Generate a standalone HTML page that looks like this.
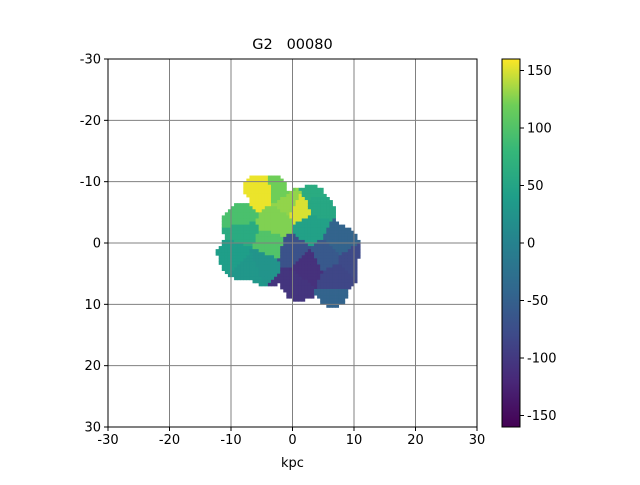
<!DOCTYPE html>
<html><head><meta charset="utf-8"><style>
body{margin:0;background:#fff;font-family:"Liberation Sans","DejaVu Sans",sans-serif;}
svg text{font-family:"DejaVu Sans","Liberation Sans",sans-serif;font-size:13px;fill:#000;white-space:pre;}
</style></head><body>
<svg id="chart" width="640" height="480" viewBox="0 0 640 480" xmlns="http://www.w3.org/2000/svg">
<defs><linearGradient id="vir" x1="0" y1="1" x2="0" y2="0">
<stop offset="0" stop-color="#440154"/><stop offset="0.125" stop-color="#482878"/><stop offset="0.25" stop-color="#3e4a89"/><stop offset="0.375" stop-color="#31688e"/><stop offset="0.5" stop-color="#26828e"/><stop offset="0.625" stop-color="#1f9e89"/><stop offset="0.75" stop-color="#35b779"/><stop offset="0.875" stop-color="#6ece58"/><stop offset="1" stop-color="#fde725"/></linearGradient></defs>
<rect width="640" height="480" fill="#fff"/>
<text x="292.5" y="49" text-anchor="middle" xml:space="preserve" style="font-size:14.5px">G2   00080</text>
<g id="map"></g>
<g id="grid"></g>
<rect x="108" y="59" width="369" height="368" fill="none" stroke="#000" stroke-width="1"/>
<g id="ticks"></g>
<text x="292.5" y="467" text-anchor="middle">kpc</text>
<rect x="502" y="59" width="18" height="368" fill="url(#vir)" stroke="#000" stroke-width="1"/>
<g id="cticks"></g>
</svg>
<script>
const axisTicks=[-30,-20,-10,0,10,20,30];
const cbarTicks=[-150,-100,-50,0,50,100,150];
const vmin=-160, vmax=160;
// velocity regions: centers (kpc) and values
const regX=[-5.3,1.2,-2.5,-9,-9.5,-7,-3.7,4,2.8,7.7,0,2.4,0,7.2,7.2,9.8,-5,-2,3.8,-8.5,-0.5,5.5];
const regY=[-8.5,-5.7,-3.4,-4.5,1.5,4,0.3,-6.5,-2.4,-0.5,1.2,3.8,7,5.7,9,3,3.2,-8.8,-8.2,-1.5,-6.5,2];
const regV=[155,150,125,95,40,30,100,55,45,-45,-70,-110,-105,-85,-45,-80,25,120,60,60,130,-60];
// extent mask circles (kpc)
const maskX=[-4,1,4,-8,-8,-2,4,7,2,7,1,6.5,-4,-11.5,-3,-6,3];
const maskY=[-8,-6,-5,-3,2,-2,-1,1,4,5,7,8,3,1.5,-9,-9,-7];
const maskR=[3.2,3,3,3.5,4,4,4,4,5,3.5,2.5,2.5,4,1,2,2,2.5];
const NS='http://www.w3.org/2000/svg';
const X0=108,X1=477,Y0=59,Y1=427;
const sx=v=>X0+(v+30)/60*(X1-X0);
const sy=v=>Y0+(v+30)/60*(Y1-Y0);
const cy=v=>Y1-(v-vmin)/(vmax-vmin)*(Y1-Y0);
const vir=[[68,1,84],[72,40,120],[62,74,137],[49,104,142],[38,130,142],[31,158,137],[53,183,121],[110,206,88],[253,231,37]];
function color(v){let t=Math.max(0,Math.min(1,(v-vmin)/(vmax-vmin)))*8;let i=Math.min(7,Math.floor(t)),f=t-i;
const a=vir[i],b=vir[i+1];return 'rgb('+a.map((c,k)=>Math.round(c+(b[k]-c)*f)).join(',')+')';}
function mk(tag,at,par){const e=document.createElementNS(NS,tag);for(const k in at)e.setAttribute(k,at[k]);par.appendChild(e);return e;}
const map=document.getElementById('map');
const step=0.5;
for(let x=-13;x<13;x+=step){for(let y=-12;y<12;y+=step){
 const px=x+step/2,py=y+step/2;let inside=false;
 for(let i=0;i<maskX.length;i++){if((px-maskX[i])**2+(py-maskY[i])**2<=maskR[i]**2){inside=true;break;}}
 if(!inside)continue;
 let best=0,bd=1e9;for(let i=0;i<regX.length;i++){const d=(px-regX[i])**2+(py-regY[i])**2;if(d<bd){bd=d;best=i;}}
 const r=mk('rect',{x:sx(x).toFixed(2),y:sy(y).toFixed(2),width:(sx(x+step)-sx(x)+0.4).toFixed(2),height:(sy(y+step)-sy(y)+0.4).toFixed(2),fill:color(regV[best])},map);
 
 
}}
const grid=document.getElementById('grid'),ticks=document.getElementById('ticks');
axisTicks.forEach(t=>{
 const gx=mk('line',{x1:sx(t),x2:sx(t),y1:Y0,y2:Y1,stroke:'#808080','stroke-width':1},grid);
 
 
 const gy=mk('line',{x1:X0,x2:X1,y1:sy(t),y2:sy(t),stroke:'#808080','stroke-width':1},grid);
 
 
 mk('line',{x1:sx(t),x2:sx(t),y1:Y1,y2:Y1+4,stroke:'#000'},ticks);
 mk('line',{x1:X0-4,x2:X0,y1:sy(t),y2:sy(t),stroke:'#000'},ticks);
 const lx=mk('text',{x:sx(t),y:Y1+17,'text-anchor':'middle'},ticks);lx.textContent=t;
 
 
 const ly=mk('text',{x:X0-7,y:sy(t)+4.5,'text-anchor':'end'},ticks);ly.textContent=t;
 
 
});
const ct=document.getElementById('cticks');
cbarTicks.forEach(t=>{
 mk('line',{x1:520,x2:524,y1:cy(t),y2:cy(t),stroke:'#000'},ct);
 const l=mk('text',{x:527,y:cy(t)+4.5},ct);l.textContent=t;
 
 
});
</script>
</body></html>
